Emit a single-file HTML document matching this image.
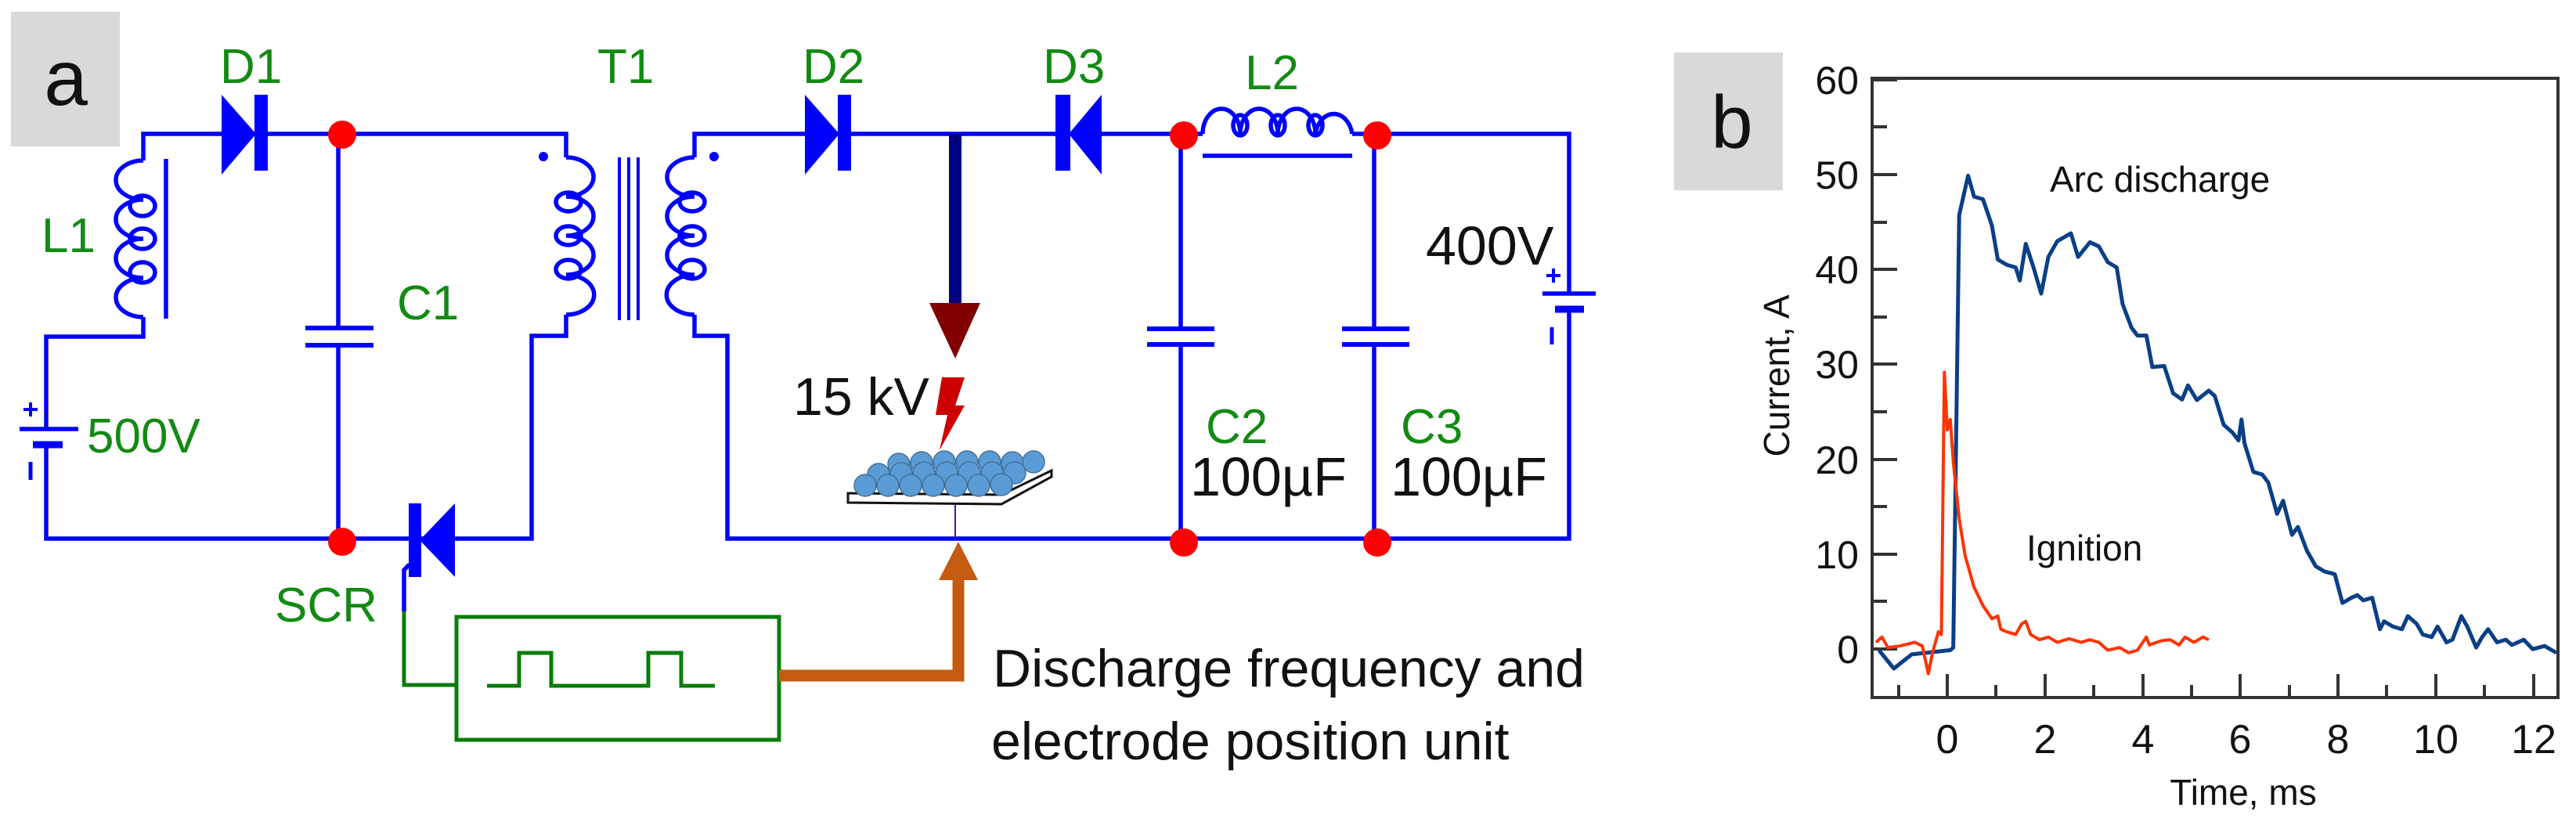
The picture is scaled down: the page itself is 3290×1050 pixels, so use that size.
<!DOCTYPE html>
<html><head><meta charset="utf-8">
<style>
html,body{margin:0;padding:0;background:#fff;}
svg{display:block;}
</style></head>
<body>
<svg width="3290" height="1050" viewBox="0 0 3290 1050" xmlns="http://www.w3.org/2000/svg">
<rect x="0" y="0" width="3290" height="1050" fill="#fff"/>
<!-- panel a label -->
<rect x="14" y="15" width="139" height="172" fill="#d9d9d9"/>
<text x="84" y="134" font-family="Liberation Sans, sans-serif" font-size="100" text-anchor="middle" fill="#111">a</text>

<g fill="none" stroke="#0000ff" stroke-width="5.5" stroke-linejoin="miter">
  <polyline points="183,205 183,171 723,171 723,201"/>
  <polyline points="183,405 183,430 59,430 59,548"/>
  <polyline points="59,568 59,688 679,688 679,429 723,429 723,402"/>
  <path d="M183,205 A35,25 0 0 0 183,255 A35,25 0 0 0 183,305 A35,25 0 0 0 183,355 A35,25 0 0 0 183,405"/>
  <ellipse cx="182" cy="263" rx="16" ry="13"/>
  <ellipse cx="182" cy="305" rx="16" ry="13"/>
  <ellipse cx="182" cy="348" rx="16" ry="13"/>
  <line x1="212" y1="203" x2="212" y2="407"/>
  <line x1="25" y1="548" x2="100" y2="548"/>
  <line x1="42" y1="568" x2="80" y2="568" stroke-width="9"/>
  <line x1="30" y1="523" x2="48" y2="523" stroke-width="4"/>
  <line x1="39" y1="514" x2="39" y2="532" stroke-width="4"/>
  <line x1="39" y1="590" x2="39" y2="613" stroke-width="5"/>
  <line x1="432" y1="171" x2="432" y2="419"/>
  <line x1="432" y1="441" x2="432" y2="688"/>
  <line x1="390" y1="419" x2="477" y2="419" stroke-width="6"/>
  <line x1="390" y1="441" x2="477" y2="441" stroke-width="6"/>
  <path d="M723,201 A35,25 0 0 1 723,251 A35,25 0 0 1 723,301 A35,25 0 0 1 723,351 A35,25 0 0 1 723,402"/>
  <ellipse cx="726" cy="258" rx="16" ry="12"/>
  <ellipse cx="726" cy="301" rx="16" ry="12"/>
  <ellipse cx="726" cy="344" rx="16" ry="12"/>
  <line x1="791" y1="201" x2="791" y2="409" stroke-width="4"/>
  <line x1="803" y1="201" x2="803" y2="409" stroke-width="4"/>
  <line x1="815" y1="201" x2="815" y2="409" stroke-width="4"/>
  <path d="M887,201 A35,25 0 0 0 887,251 A35,25 0 0 0 887,301 A35,25 0 0 0 887,351 A35,25 0 0 0 887,402"/>
  <ellipse cx="884" cy="258" rx="16" ry="12"/>
  <ellipse cx="884" cy="301" rx="16" ry="12"/>
  <ellipse cx="884" cy="344" rx="16" ry="12"/>
  <polyline points="887,201 887,171 1536,171"/>
  <polyline points="887,402 887,429 929,429 929,688 2004,688 2004,395"/>
  <polyline points="2004,375 2004,171 1727,171"/>
  <path d="M1536,171 A24,32 0 0 1 1584,171 A24,32 0 0 1 1632,171 A24,32 0 0 1 1680,171 A24,32 0 0 1 1727,171"/>
  <ellipse cx="1584" cy="160" rx="9" ry="13"/>
  <ellipse cx="1632" cy="160" rx="9" ry="13"/>
  <ellipse cx="1680" cy="160" rx="9" ry="13"/>
  <line x1="1536" y1="199" x2="1727" y2="199"/>
  <line x1="1508" y1="171" x2="1508" y2="420"/>
  <line x1="1508" y1="440" x2="1508" y2="688"/>
  <line x1="1465" y1="420" x2="1551" y2="420" stroke-width="6"/>
  <line x1="1465" y1="440" x2="1551" y2="440" stroke-width="6"/>
  <line x1="1755" y1="171" x2="1755" y2="420"/>
  <line x1="1755" y1="440" x2="1755" y2="688"/>
  <line x1="1714" y1="420" x2="1800" y2="420" stroke-width="6"/>
  <line x1="1714" y1="440" x2="1800" y2="440" stroke-width="6"/>
  <line x1="1970" y1="375" x2="2038" y2="375"/>
  <line x1="1986" y1="395" x2="2023" y2="395" stroke-width="9"/>
  <line x1="1975" y1="352" x2="1993" y2="352" stroke-width="4"/>
  <line x1="1984" y1="343" x2="1984" y2="361" stroke-width="4"/>
  <line x1="1982" y1="418" x2="1982" y2="440" stroke-width="5"/>
  <polyline points="523,721 516,728 516,781"/>
  <line x1="1220" y1="640" x2="1220" y2="688" stroke="#2a2a9a" stroke-width="2"/>
</g>
<g fill="#0000ff">
  <polygon points="283,121 283,223 327,171"/><rect x="325" y="121" width="17" height="97"/>
  <polygon points="1028,121 1028,223 1072,171"/><rect x="1070" y="121" width="17" height="97"/>
  <polygon points="1407,121 1407,223 1365,171"/><rect x="1348" y="121" width="19" height="97"/>
  <polygon points="581,643 581,737 536,690"/><rect x="522" y="643" width="16" height="94"/>
  <circle cx="694" cy="200" r="6"/><circle cx="912" cy="200" r="6"/>
</g>
<g fill="#ff0000">
  <circle cx="437" cy="172" r="18"/><circle cx="437" cy="692" r="18"/>
  <circle cx="1512" cy="173" r="18"/><circle cx="1759" cy="173" r="18"/>
  <circle cx="1512" cy="693" r="18"/><circle cx="1759" cy="693" r="18"/>
</g>
<rect x="1212" y="171" width="16" height="218" fill="#000080"/>
<polygon points="1187,387 1252,387 1220,458" fill="#800000"/>
<polygon points="1203,482 1232,482 1220,518 1232,518 1200,575 1210,530 1195,530" fill="#cc0000"/>
<polygon points="1083,630 1279,632 1343,601 1343,609 1279,644 1083,642" fill="#fff" stroke="#111" stroke-width="3"/>
<g fill="#5b9bd5" stroke="#41719c" stroke-width="1.5">
  <circle cx="1148" cy="593" r="14"/><circle cx="1177" cy="591" r="14"/><circle cx="1206" cy="590" r="14"/><circle cx="1235" cy="590" r="14"/><circle cx="1264" cy="590" r="14"/><circle cx="1293" cy="591" r="14"/><circle cx="1320" cy="590" r="14"/>
  <circle cx="1122" cy="606" r="14"/><circle cx="1151" cy="605" r="14"/><circle cx="1180" cy="604" r="14"/><circle cx="1209" cy="604" r="14"/><circle cx="1238" cy="604" r="14"/><circle cx="1267" cy="604" r="14"/><circle cx="1296" cy="604" r="14"/>
  <circle cx="1105" cy="620" r="14"/><circle cx="1134" cy="620" r="14"/><circle cx="1163" cy="620" r="14"/><circle cx="1192" cy="620" r="14"/><circle cx="1221" cy="620" r="14"/><circle cx="1250" cy="620" r="14"/><circle cx="1279" cy="619" r="14"/>
</g>
<g fill="none" stroke="#0a7d0a" stroke-width="5">
  <rect x="583" y="788" width="412" height="157"/>
  <polyline points="516,781 516,875 583,875"/>
  <polyline points="622,876 663,876 663,834 704,834 704,876 828,876 828,834 870,834 870,876 913,876"/>
</g>
<polyline points="995,863 1224,863 1224,735" fill="none" stroke="#c55a11" stroke-width="15"/>
<polygon points="1199,741 1249,741 1224,692" fill="#c55a11"/>

<g font-family="Liberation Sans, sans-serif" font-size="62" fill="#138a13">
  <text x="281" y="106">D1</text>
  <text x="763" y="106">T1</text>
  <text x="1025" y="106">D2</text>
  <text x="1332" y="106">D3</text>
  <text x="1590" y="114">L2</text>
  <text x="53" y="322">L1</text>
  <text x="507" y="408">C1</text>
  <text x="111" y="578">500V</text>
  <text x="351" y="794">SCR</text>
  <text x="1540" y="566">C2</text>
  <text x="1789" y="566">C3</text>
</g>
<g font-family="Liberation Sans, sans-serif" fill="#111">
  <text x="1013" y="530" font-size="68">15 kV</text>
  <text x="1520" y="633" font-size="70">100µF</text>
  <text x="1776" y="633" font-size="70">100µF</text>
  <text x="1821" y="338" font-size="70">400V</text>
  <text x="1268" y="877" font-size="68">Discharge frequency and</text>
  <text x="1266" y="970" font-size="68">electrode position unit</text>
</g>

<rect x="2138" y="67" width="139" height="176" fill="#d9d9d9"/>
<text x="2212" y="189" font-family="Liberation Sans, sans-serif" font-size="96" text-anchor="middle" fill="#111">b</text>
<rect x="2391" y="100" width="876" height="791" fill="none" stroke="#333" stroke-width="4"/>
<g stroke="#333" stroke-width="4">
  <line x1="2391" y1="102" x2="2423" y2="102"/><line x1="2391" y1="162" x2="2410" y2="162"/>
  <line x1="2391" y1="223" x2="2423" y2="223"/><line x1="2391" y1="284" x2="2410" y2="284"/>
  <line x1="2391" y1="344" x2="2423" y2="344"/><line x1="2391" y1="405" x2="2410" y2="405"/>
  <line x1="2391" y1="465" x2="2423" y2="465"/><line x1="2391" y1="526" x2="2410" y2="526"/>
  <line x1="2391" y1="587" x2="2423" y2="587"/><line x1="2391" y1="647" x2="2410" y2="647"/>
  <line x1="2391" y1="708" x2="2423" y2="708"/><line x1="2391" y1="768" x2="2410" y2="768"/>
  <line x1="2391" y1="829" x2="2423" y2="829"/>
  <line x1="2425" y1="891" x2="2425" y2="875"/>
  <line x1="2487" y1="891" x2="2487" y2="861"/><line x1="2549" y1="891" x2="2549" y2="875"/>
  <line x1="2612" y1="891" x2="2612" y2="861"/><line x1="2674" y1="891" x2="2674" y2="875"/>
  <line x1="2737" y1="891" x2="2737" y2="861"/><line x1="2799" y1="891" x2="2799" y2="875"/>
  <line x1="2861" y1="891" x2="2861" y2="861"/><line x1="2924" y1="891" x2="2924" y2="875"/>
  <line x1="2986" y1="891" x2="2986" y2="861"/><line x1="3048" y1="891" x2="3048" y2="875"/>
  <line x1="3111" y1="891" x2="3111" y2="861"/><line x1="3173" y1="891" x2="3173" y2="875"/>
  <line x1="3236" y1="891" x2="3236" y2="861"/>
</g>
<g font-family="Liberation Sans, sans-serif" font-size="50" fill="#111" text-anchor="end">
  <text x="2374" y="120">60</text><text x="2374" y="241">50</text><text x="2374" y="362">40</text>
  <text x="2374" y="483">30</text><text x="2374" y="605">20</text><text x="2374" y="726">10</text>
  <text x="2374" y="847">0</text>
</g>
<g font-family="Liberation Sans, sans-serif" font-size="52" fill="#111" text-anchor="middle">
  <text x="2487" y="962">0</text><text x="2612" y="962">2</text><text x="2737" y="962">4</text>
  <text x="2861" y="962">6</text><text x="2986" y="962">8</text><text x="3111" y="962">10</text><text x="3236" y="962">12</text>
</g>
<g font-family="Liberation Sans, sans-serif" font-size="46" fill="#111">
  <text x="2865" y="1028" text-anchor="middle">Time, ms</text>
  <text x="2618" y="245">Arc discharge</text>
  <text x="2588" y="716">Ignition</text>
  <text transform="translate(2285,480) rotate(-90)" text-anchor="middle">Current, A</text>
</g>
<g transform="translate(2100,0) scale(0.75896,0.66979)" fill="none" stroke-linejoin="round">
  <polyline vector-effect="non-scaling-stroke" stroke="#0a3f85" stroke-width="5" points="395,1240 420,1275 450,1248 515,1240 520,1235 530,410 545,335 555,375 570,380 585,430 595,495 610,505 625,510 632,535 642,465 655,510 668,560 680,490 695,460 718,445 730,490 750,462 765,470 780,500 795,510 805,580 820,625 830,640 845,640 855,700 875,698 890,750 905,762 915,735 930,763 950,745 960,755 975,810 990,825 1000,840 1005,800 1010,845 1025,900 1040,905 1050,920 1065,980 1075,955 1090,1020 1100,1005 1115,1050 1130,1080 1145,1090 1162,1095 1175,1150 1190,1140 1200,1135 1210,1145 1225,1140 1238,1200 1245,1185 1260,1195 1275,1200 1285,1175 1300,1190 1310,1210 1325,1215 1335,1195 1350,1225 1360,1220 1375,1175 1385,1195 1400,1235 1410,1215 1420,1200 1435,1225 1450,1220 1460,1230 1480,1220 1495,1238 1515,1232 1535,1245"/>
  <polyline vector-effect="non-scaling-stroke" stroke="#ff3300" stroke-width="4" points="390,1225 400,1215 410,1235 430,1232 455,1225 468,1232 478,1285 485,1245 495,1205 500,1210 505,710 510,820 515,800 520,880 530,990 540,1060 555,1120 570,1155 585,1180 595,1175 600,1200 610,1205 625,1210 635,1190 642,1185 650,1210 665,1220 680,1215 695,1225 715,1218 735,1225 750,1220 765,1225 780,1240 800,1235 815,1245 830,1240 845,1215 850,1230 870,1222 885,1220 900,1230 910,1215 925,1225 940,1215 950,1220"/>
</g>
</svg>
</body></html>
